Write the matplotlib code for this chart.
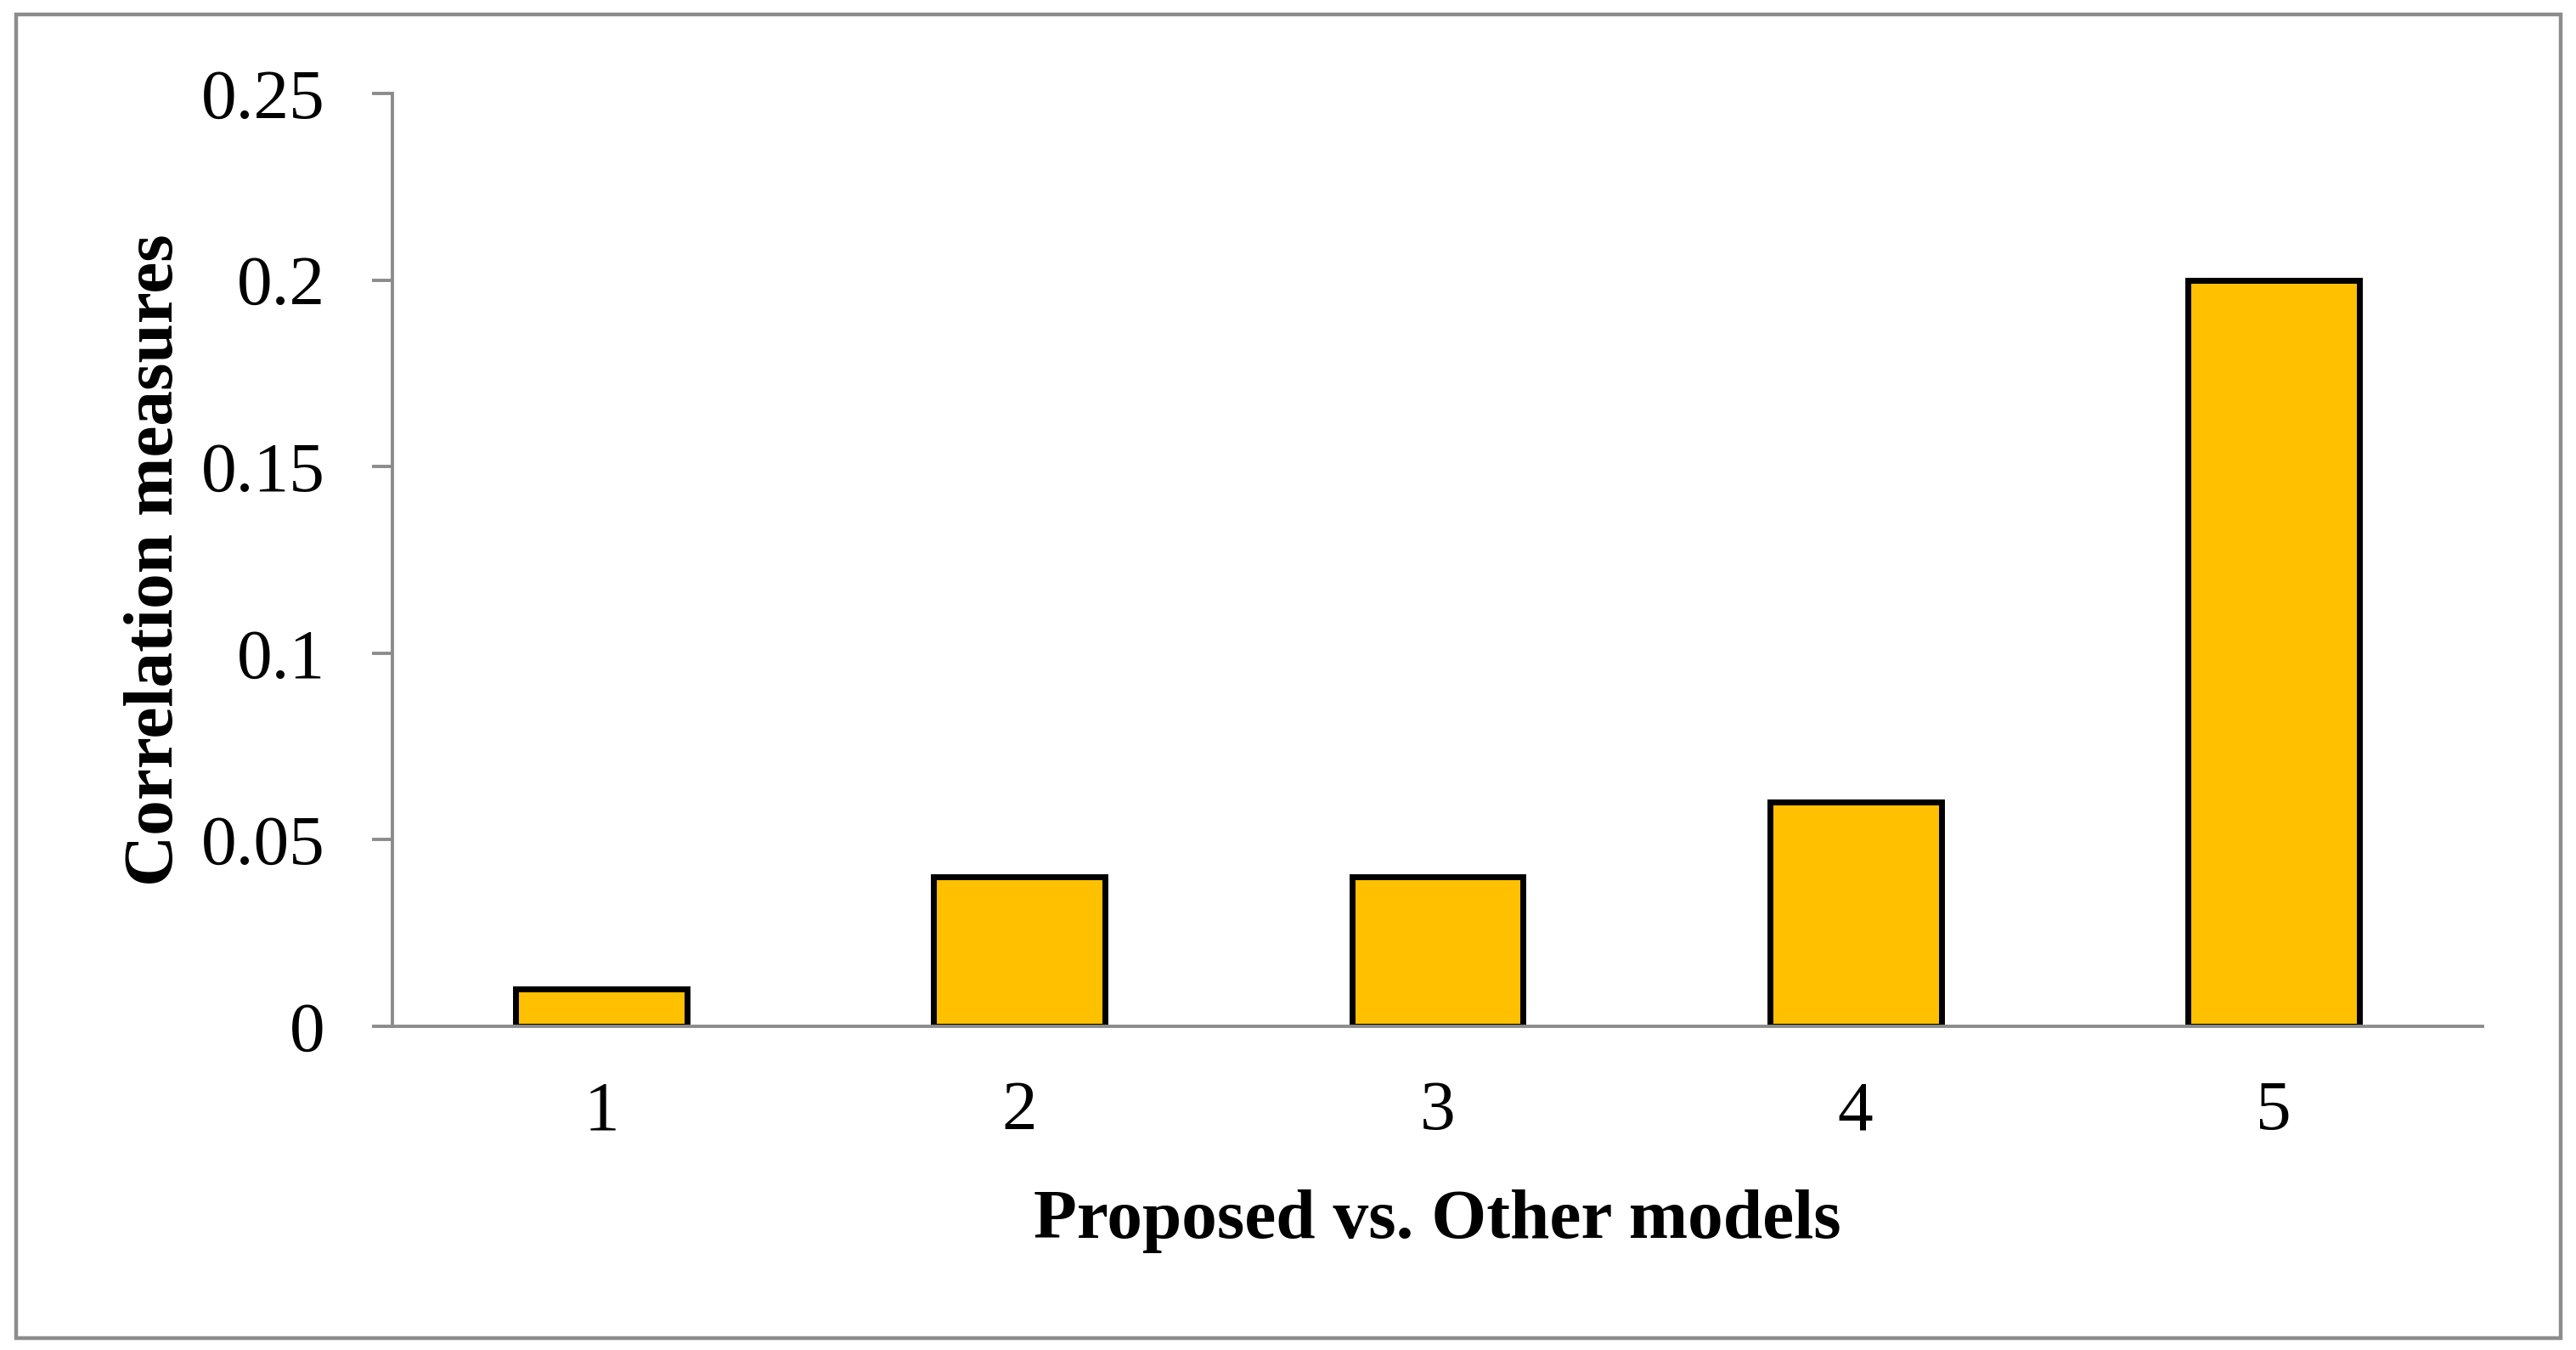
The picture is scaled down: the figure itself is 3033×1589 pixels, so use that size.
import matplotlib
matplotlib.use("Agg")
import matplotlib.pyplot as plt
from matplotlib.patches import Rectangle

# chart data
models = ["1", "2", "3", "4", "5"]
corr = [0.01, 0.04, 0.04, 0.06, 0.20]
yticks = [0, 0.05, 0.1, 0.15, 0.2, 0.25]
ytick_labels = ["0", "0.05", "0.1", "0.15", "0.2", "0.25"]

plt.rcParams['font.family'] = ['Liberation Serif', 'DejaVu Serif']
grey = '#8c8c8c'

fig = plt.figure(figsize=(30.33, 15.89), dpi=100)
ax = fig.add_axes([0.1523, 0.2398, 0.8114, 0.691])

xpos = range(1, len(models) + 1)
ax.bar(xpos, corr, width=0.41, color='#FFC000', edgecolor='black', linewidth=5)

ax.set_xlim(0.5, 5.5)
ax.set_ylim(0, 0.25)
ax.set_yticks(yticks)
ax.set_yticklabels(ytick_labels)
ax.set_xticks(list(xpos))
ax.set_xticklabels(models)

for s in ['top', 'right']:
    ax.spines[s].set_visible(False)
for s in ['left', 'bottom']:
    ax.spines[s].set_color(grey)
    ax.spines[s].set_linewidth(2.8)

ax.tick_params(axis='y', length=17, width=2.8, color=grey, pad=40, labelsize=60)
ax.tick_params(axis='x', length=0, pad=46, labelsize=60)

ax.set_xlabel("Proposed vs. Other models", fontsize=60, fontweight='bold')
ax.set_ylabel("Correlation measures", fontsize=60, fontweight='bold')
ax.xaxis.set_label_coords(0.5, -0.175)
ax.yaxis.set_label_coords(-0.098, 0.5)

# grey frame around the whole chart
fig.patches.append(Rectangle((0.0062, 0.0085), 0.9878, 0.981, transform=fig.transFigure,
                             fill=False, edgecolor=grey, linewidth=3.2))

fig.savefig("out.png", dpi=100, facecolor='white')
